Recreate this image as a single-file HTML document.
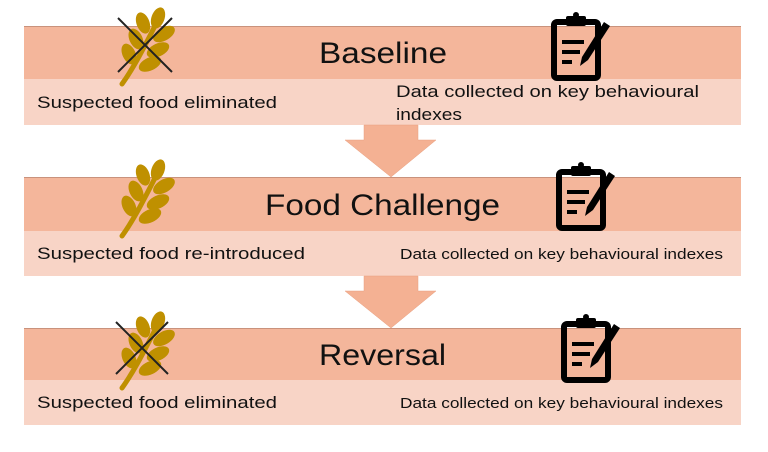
<!DOCTYPE html>
<html><head><meta charset="utf-8"><style>html,body{margin:0;padding:0;background:#fff}svg{display:block}</style></head>
<body>
<svg width="768" height="452" viewBox="0 0 768 452" xmlns="http://www.w3.org/2000/svg" font-family="'Liberation Sans', sans-serif">
<defs>
<g id="wheat">
<path d="M4 76 C14 62 22 48 44 4" stroke="#bf9000" stroke-width="5" fill="none" stroke-linecap="round"/>
<g fill="#bf9000">
<ellipse cx="40" cy="10" rx="6.5" ry="11" transform="rotate(20 40 10)"/>
<ellipse cx="25" cy="15" rx="6.5" ry="11" transform="rotate(-20 25 15)"/>
<ellipse cx="46" cy="26" rx="6.5" ry="12" transform="rotate(60 46 26)"/>
<ellipse cx="18" cy="31" rx="6.5" ry="11" transform="rotate(-25 18 31)"/>
<ellipse cx="40" cy="42" rx="6.5" ry="12" transform="rotate(65 40 42)"/>
<ellipse cx="11" cy="46" rx="6.5" ry="11" transform="rotate(-25 11 46)"/>
<ellipse cx="32" cy="56" rx="6.5" ry="12" transform="rotate(65 32 56)"/>
</g>
</g>
<g id="clip">
<rect x="4" y="10" width="44" height="56" rx="3" fill="none" stroke="#000" stroke-width="6"/>
<rect x="16" y="4" width="20" height="10" rx="2" fill="#000"/>
<circle cx="26" cy="3" r="3" fill="#000"/>
<path d="M12 30h22M12 40h18M12 50h10" stroke="#000" stroke-width="4"/>
<path d="M60 14 L38 48 L30 54 L32 45 L54 10 Z" fill="#000"/>
</g>
</defs>
<rect x="24" y="26" width="717" height="53" fill="#f4b69b"/>
<rect x="24" y="79" width="717" height="46" fill="#f8d4c6"/>
<line x1="24" y1="26.5" x2="741" y2="26.5" stroke="#c9927c" stroke-width="1"/>
<rect x="24" y="177" width="717" height="54" fill="#f4b69b"/>
<rect x="24" y="231" width="717" height="45" fill="#f8d4c6"/>
<line x1="24" y1="177.5" x2="741" y2="177.5" stroke="#c9927c" stroke-width="1"/>
<rect x="24" y="328" width="717" height="52" fill="#f4b69b"/>
<rect x="24" y="380" width="717" height="45" fill="#f8d4c6"/>
<line x1="24" y1="328.5" x2="741" y2="328.5" stroke="#c9927c" stroke-width="1"/>
<path d="M364 125 H418 V140 H436 L391 177 L345 140 H364 Z" fill="#f4b193" stroke="#e8a080" stroke-width="0.5"/>
<path d="M364 276 H418 V291 H436 L391 328 L345 291 H364 Z" fill="#f4b193" stroke="#e8a080" stroke-width="0.5"/>
<use href="#wheat" x="118" y="8"/>
<path d="M118 18 L172 72 M172 18 L118 72" stroke="#222" stroke-width="2"/>
<use href="#wheat" x="118" y="160"/>
<use href="#wheat" x="118" y="312"/>
<path d="M116 322 L168 374 M168 322 L116 374" stroke="#222" stroke-width="2"/>
<use href="#clip" x="550" y="12"/>
<use href="#clip" x="555" y="162"/>
<use href="#clip" x="560" y="314"/>
<g fill="#111">
<text x="319" y="63" font-size="30" textLength="128" lengthAdjust="spacingAndGlyphs">Baseline</text>
<text x="265" y="215" font-size="30" textLength="235" lengthAdjust="spacingAndGlyphs">Food Challenge</text>
<text x="319" y="365" font-size="30" textLength="127" lengthAdjust="spacingAndGlyphs">Reversal</text>
<text x="37" y="108" font-size="17" textLength="240" lengthAdjust="spacingAndGlyphs">Suspected food eliminated</text>
<text x="396" y="97" font-size="17" textLength="303" lengthAdjust="spacingAndGlyphs">Data collected on key behavioural</text>
<text x="396" y="120" font-size="17" textLength="66" lengthAdjust="spacingAndGlyphs">indexes</text>
<text x="37" y="259" font-size="17" textLength="268" lengthAdjust="spacingAndGlyphs">Suspected food re-introduced</text>
<text x="400" y="259" font-size="15" textLength="323" lengthAdjust="spacingAndGlyphs">Data collected on key behavioural indexes</text>
<text x="37" y="408" font-size="17" textLength="240" lengthAdjust="spacingAndGlyphs">Suspected food eliminated</text>
<text x="400" y="408" font-size="15" textLength="323" lengthAdjust="spacingAndGlyphs">Data collected on key behavioural indexes</text>
</g>
</svg>
</body></html>
